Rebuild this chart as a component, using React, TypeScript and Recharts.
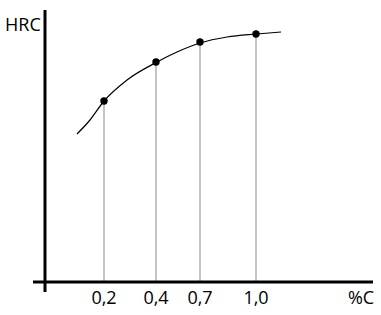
import React from "react";
import {
  ComposedChart,
  Line,
  Scatter,
  XAxis,
  YAxis,
  ReferenceLine,
} from "recharts";

// schematic positions along the %C axis (not to scale in the original sketch)
const tickPositions = [5.9, 11.1, 15.5, 21.1];
const tickLabels = ["0,2", "0,4", "0,7", "1,0"];
const unitPosition = 31.6;
const unitLabel = "%C";
const yAxisLabel = "HRC";

// measured hardness points
const hardness = [18.1, 22.0, 24.0, 24.8];

// hand-drawn curve
const curveX = [3.2, 4.5, 5.9, 8.2, 11.2, 13.2, 15.5, 18.2, 21.2, 23.6];
const curveY = [14.8, 16.2, 18.1, 20.2, 22.0, 23.0, 23.9, 24.5, 24.8, 25.0];

const curveData = curveX.map((x, i) => ({ x, y: curveY[i] }));
const pointData = tickPositions.map((x, i) => ({ x, y: hardness[i] }));

const allTicks = [...tickPositions, unitPosition];
const allLabels = [...tickLabels, unitLabel];

const FONT = "'Open Sans', sans-serif";

export default function App() {
  return (
    <div style={{ position: "absolute", left: 0, top: 0, background: "#fff" }}>
      <ComposedChart
        width={381}
        height={315}
        margin={{ top: 10, right: 8, bottom: 0, left: 33 }}
      >
        <XAxis
          type="number"
          dataKey="x"
          domain={[-1.2, 32.8]}
          ticks={allTicks}
          tickFormatter={(v: number) => allLabels[allTicks.indexOf(v)] ?? ""}
          axisLine={{ stroke: "#000", strokeWidth: 3 }}
          tickLine={false}
          tickSize={0}
          tickMargin={9}
          height={33}
          interval={0}
          tick={{ fill: "#000", fontSize: 18, fontFamily: FONT }}
          allowDataOverflow
        />
        <YAxis type="number" dataKey="y" domain={[0, 27.2]} hide width={0} allowDataOverflow />
        <ReferenceLine
          segment={[
            { x: 0, y: -1.0 },
            { x: 0, y: 27.2 },
          ]}
          stroke="#000"
          strokeWidth={3}
          ifOverflow="visible"
        />
        {pointData.map((p) => (
          <ReferenceLine
            key={p.x}
            segment={[
              { x: p.x, y: 0 },
              { x: p.x, y: p.y },
            ]}
            stroke="#888"
            strokeWidth={1}
          />
        ))}
        <Line
          data={curveData}
          dataKey="y"
          type="monotone"
          stroke="#000"
          strokeWidth={1.2}
          dot={false}
          activeDot={false}
          isAnimationActive={false}
        />
        <Scatter
          data={pointData}
          dataKey="y"
          fill="#000"
          shape={(props: any) => <circle cx={props.cx} cy={props.cy} r={3.7} fill="#000" />}
          isAnimationActive={false}
        />
        <text x={5} y={31} fontSize={18} fontFamily={FONT} fill="#000">
          {yAxisLabel}
        </text>
      </ComposedChart>
    </div>
  );
}
